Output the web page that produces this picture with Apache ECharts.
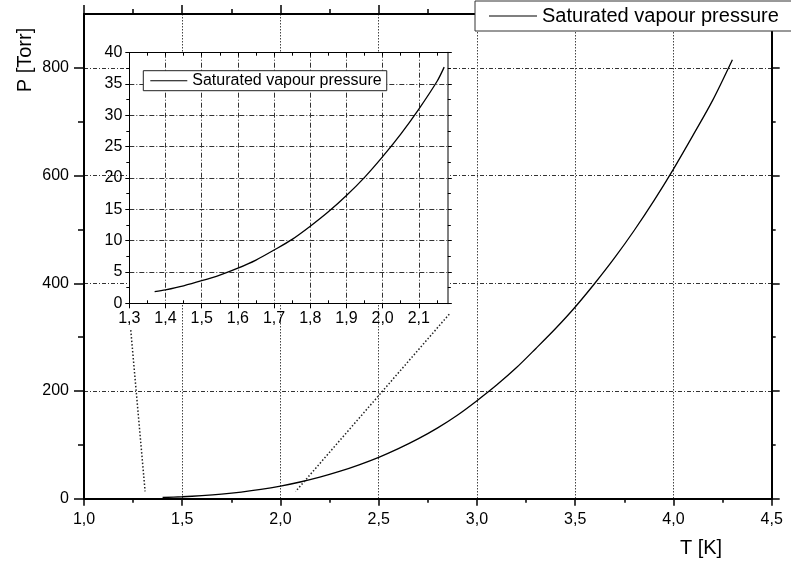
<!DOCTYPE html>
<html>
<head>
<meta charset="utf-8">
<script src="https://cdn.jsdelivr.net/npm/echarts@6/dist/echarts.min.js"></script>
<style>
html,body{margin:0;padding:0;background:#fff;}
#chart{width:791px;height:563px;}
</style>
</head>
<body>
<div id="chart"></div>
<script>
// ---- data ----
const seriesName = 'Saturated vapour pressure';
// main plot: temperature [K] and pressure [Torr]
const mainT = [1.4,1.5,1.6,1.7,1.8,1.9,2.0,2.1,2.2,2.3,2.4,2.5,2.6,2.7,2.8,2.9,3.0,3.1,3.2,3.3,3.4,3.5,3.6,3.7,3.8,3.9,4.0,4.1,4.2,4.3];
const mainP = [2.2,3.6,5.7,8.5,12.3,17.2,23.4,31.0,40.0,50.6,62.9,76.8,92.9,111,131.5,155,182,211,243,279,316,356,400,447,498,553,612,675,740,815];
// inset plot
const insetT = [1.37,1.4,1.45,1.5,1.55,1.6,1.65,1.7,1.75,1.8,1.85,1.9,1.95,2.0,2.05,2.1,2.15,2.17];
const insetP = [1.85,2.16,2.8,3.6,4.5,5.6,6.9,8.5,10.2,12.3,14.6,17.2,20.1,23.4,27.0,31.0,35.4,37.7];
// dotted zoom connectors (main-plot data coordinates)
const connectorLeftT = [1.238, 1.311];
const connectorLeftP = [313, 13.5];
const connectorRightT = [2.859, 2.077];
const connectorRightP = [342.7, 13.5];
// axis ticks
const mainYMajor = [0,200,400,600,800];
const mainYMinor = [100,300,500,700];
const insetXMajor = [1.3,1.4,1.5,1.6,1.7,1.8,1.9,2.0,2.1];
const insetXMinor = [1.35,1.45,1.55,1.65,1.75,1.85,1.95,2.05,2.15];
const insetXAll = [1.3,1.35,1.4,1.45,1.5,1.55,1.6,1.65,1.7,1.75,1.8,1.85,1.9,1.95,2.0,2.05,2.1,2.15];

const FONT = '"Liberation Sans", Arial, sans-serif';
const zip = (a, b) => a.map((v, i) => [v, b[i]]);
const comma = v => (Math.round(v * 10) / 10).toFixed(1).replace('.', ',');

const chart = echarts.init(document.getElementById('chart'), null, {renderer: 'canvas'});

const hidden = {show: false};
const option = {
  animation: false,
  backgroundColor: '#fff',
  textStyle: {fontFamily: FONT},
  grid: [
    {left: 84, top: 14, width: 687.7, height: 484.7},
    {left: 129.3, top: 52.7, width: 318.5, height: 250.6, show: true, backgroundColor: '#fff', borderWidth: 0, z: 3}
  ],
  legend: [
    {
      data: [seriesName], left: 475, top: 1,
      padding: [5, 30, 5, 14], itemWidth: 48, itemHeight: 1, icon: 'rect',
      itemStyle: {color: '#000', borderWidth: 0},
      backgroundColor: '#fff', borderColor: '#333', borderWidth: 1,
      textStyle: {fontFamily: FONT, fontSize: 20, color: '#000'},
      selectedMode: false
    },
    {
      data: [seriesName], left: 143.3, top: 70.7,
      padding: [2, 5, 2, 7], itemWidth: 37, itemHeight: 1, icon: 'rect',
      itemStyle: {color: '#000', borderWidth: 0},
      backgroundColor: '#fff', borderColor: '#222', borderWidth: 1,
      textStyle: {fontFamily: FONT, fontSize: 16, color: '#000'},
      selectedMode: false, z: 8
    }
  ],
  xAxis: [
    { // main bottom
      type: 'value', gridIndex: 0, position: 'bottom', min: 1, max: 4.5, interval: 0.5,
      axisLine: {show: true, onZero: false, lineStyle: {color: '#000', width: 2}},
      axisTick: {show: true, length: 7, lineStyle: {color: '#000', width: 1.5}},
      minorTick: {show: true, splitNumber: 2, length: 4, lineStyle: {color: '#000', width: 1.5}},
      axisLabel: {formatter: comma, fontFamily: FONT, fontSize: 16, color: '#000', margin: 13},
      splitLine: {show: true, lineStyle: {color: '#444', width: 1, type: [1.5, 1.5]}}
    },
    { // main top
      type: 'value', gridIndex: 0, position: 'top', min: 1, max: 4.5, interval: 0.5,
      axisLine: {show: true, onZero: false, lineStyle: {color: '#000', width: 2}},
      axisTick: {show: true, length: 9, lineStyle: {color: '#000', width: 1.5}},
      minorTick: {show: true, splitNumber: 2, length: 5, lineStyle: {color: '#000', width: 1.5}},
      axisLabel: hidden, splitLine: hidden
    },
    { // inset bottom
      type: 'value', gridIndex: 1, position: 'bottom', min: 1.3, max: 2.18, interval: 0.1, z: 4,
      axisLine: {show: true, onZero: false, lineStyle: {color: '#000', width: 1}},
      axisTick: {show: true, length: 5, customValues: insetXMajor, lineStyle: {color: '#000', width: 1}},
      axisLabel: {formatter: comma, fontFamily: FONT, fontSize: 16, color: '#000', margin: 7, customValues: insetXMajor},
      splitLine: {show: true, lineStyle: {color: '#333', width: 1, type: [5, 2, 1, 2]}}
    },
    { // inset top
      type: 'value', gridIndex: 1, position: 'top', min: 1.3, max: 2.18, interval: 0.1, z: 4,
      axisLine: {show: true, onZero: false, lineStyle: {color: '#000', width: 1}},
      axisTick: {show: true, inside: true, length: 3, customValues: insetXAll, lineStyle: {color: '#000', width: 1}},
      axisLabel: hidden, splitLine: hidden
    },
    { // inset bottom minor ticks
      type: 'value', gridIndex: 1, position: 'bottom', min: 1.3, max: 2.18, interval: 0.1, z: 4,
      axisLine: hidden,
      axisTick: {show: true, inside: true, length: 3, customValues: insetXMinor, lineStyle: {color: '#000', width: 1}},
      axisLabel: hidden, splitLine: hidden
    }
  ],
  yAxis: [
    { // 0 main left
      type: 'value', gridIndex: 0, position: 'left', min: 0, max: 900, interval: 200,
      axisLine: {show: true, onZero: false, lineStyle: {color: '#000', width: 2}},
      axisTick: {show: true, length: 10, customValues: mainYMajor, lineStyle: {color: '#000', width: 1.5}},
      axisLabel: {fontFamily: FONT, fontSize: 16, color: '#000', margin: 15, customValues: mainYMajor},
      splitLine: {show: true, lineStyle: {color: '#333', width: 1, type: [4, 2, 1, 2]}}
    },
    { // 1 main left minor ticks
      type: 'value', gridIndex: 0, position: 'left', min: 0, max: 900, interval: 200,
      axisLine: hidden,
      axisTick: {show: true, length: 6, customValues: mainYMinor, lineStyle: {color: '#000', width: 1.5}},
      axisLabel: hidden, splitLine: hidden
    },
    { // 2 main right
      type: 'value', gridIndex: 0, position: 'right', min: 0, max: 900, interval: 200,
      axisLine: {show: true, onZero: false, lineStyle: {color: '#000', width: 2}},
      axisTick: {show: true, length: 8, customValues: mainYMajor, lineStyle: {color: '#000', width: 1.5}},
      axisLabel: hidden, splitLine: hidden
    },
    { // 3 main right minor
      type: 'value', gridIndex: 0, position: 'right', min: 0, max: 900, interval: 200,
      axisLine: hidden,
      axisTick: {show: true, length: 4, customValues: mainYMinor, lineStyle: {color: '#000', width: 1.5}},
      axisLabel: hidden, splitLine: hidden
    },
    { // 4 inset left
      type: 'value', gridIndex: 1, position: 'left', min: 0, max: 40, interval: 5, z: 4,
      axisLine: {show: true, onZero: false, lineStyle: {color: '#000', width: 1}},
      axisTick: {show: true, length: 4, lineStyle: {color: '#000', width: 1}},
      minorTick: {show: true, splitNumber: 2, length: 3, lineStyle: {color: '#000', width: 1}},
      axisLabel: {fontFamily: FONT, fontSize: 16, color: '#000', margin: 7},
      splitLine: {show: true, lineStyle: {color: '#333', width: 1, type: [5, 2, 1, 2]}}
    },
    { // 5 inset right
      type: 'value', gridIndex: 1, position: 'right', min: 0, max: 40, interval: 5, z: 4,
      axisLine: {show: true, onZero: false, lineStyle: {color: '#808080', width: 2}},
      axisTick: {show: true, length: 4, lineStyle: {color: '#000', width: 1}},
      minorTick: {show: true, splitNumber: 2, length: 3, lineStyle: {color: '#000', width: 1}},
      axisLabel: hidden, splitLine: hidden
    }
  ],
  graphic: [
    {type: 'text', x: 25, y: 60, rotation: Math.PI / 2, z: 10,
     style: {text: 'P [Torr]', font: '20px ' + FONT, fill: '#000', align: 'center', verticalAlign: 'middle'}},
    {type: 'text', x: 701, y: 548, z: 10,
     style: {text: 'T [K]', font: '20px ' + FONT, fill: '#000', align: 'center', verticalAlign: 'middle'}}
  ],
  series: [
    {
      name: seriesName, type: 'line', xAxisIndex: 0, yAxisIndex: 0,
      data: zip(mainT, mainP), symbol: 'none', smooth: 0.3,
      lineStyle: {color: '#000', width: 1.3}, z: 2
    },
    {
      name: seriesName, type: 'line', xAxisIndex: 2, yAxisIndex: 4,
      data: zip(insetT, insetP), symbol: 'none', smooth: 0.3,
      lineStyle: {color: '#000', width: 1.3}, z: 6
    },
    {
      name: 'connector-left', type: 'line', xAxisIndex: 0, yAxisIndex: 0,
      data: zip(connectorLeftT, connectorLeftP), symbol: 'none',
      lineStyle: {color: '#222', width: 1.5, type: [1.5, 2]}, z: 2
    },
    {
      name: 'connector-right', type: 'line', xAxisIndex: 0, yAxisIndex: 0,
      data: zip(connectorRightT, connectorRightP), symbol: 'none',
      lineStyle: {color: '#222', width: 1.5, type: [1.5, 2]}, z: 2
    }
  ]
};
chart.setOption(option);
</script>
</body>
</html>
